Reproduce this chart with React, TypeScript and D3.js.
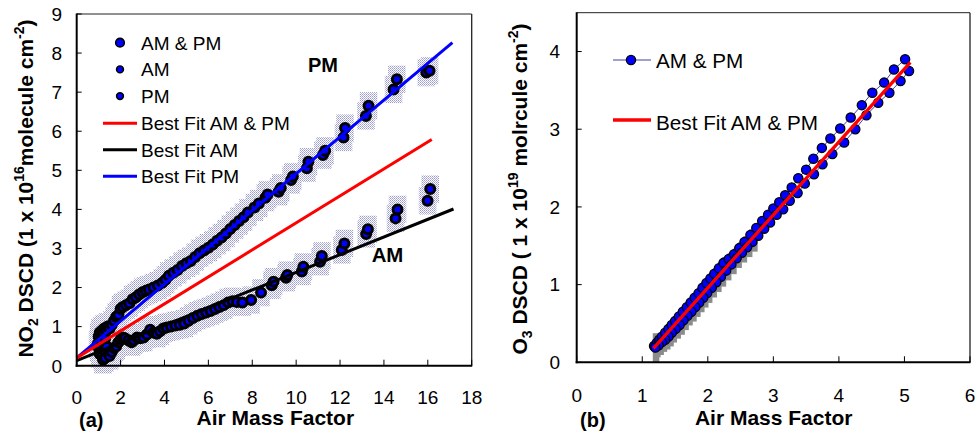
import React from "react";
import * as d3 from "d3";

// ---------- Panel (a): NO2 ----------
const pmX = [0.95,1.0,1.05,1.1,1.15,1.2,1.25,1.3,1.35,1.4,1.5,1.6,1.7,1.8,1.9,2.0,2.1,2.25,2.4,2.55,2.7,2.85,3.0,3.15,3.3,3.5,3.7,3.9,4.05,4.2,4.4,4.6,4.8,5.0,5.2,5.4,5.6,5.8,6.0,6.2,6.4,6.6,6.8,7.0,7.2,7.4,7.6,7.8,8.1,8.3,8.6,8.7,9.2,9.3,9.77,9.85,10.49,10.56,11.22,11.32,12.16,12.23,13.18,13.3,14.44,14.59,15.93,16.08];
const pmY = [0.55,0.75,0.85,0.65,0.9,0.8,0.95,0.7,0.9,1.0,0.95,1.05,1.15,1.25,1.3,1.45,1.5,1.55,1.6,1.7,1.75,1.82,1.88,1.92,1.95,2.0,2.05,2.12,2.2,2.3,2.38,2.45,2.55,2.62,2.68,2.78,2.88,2.95,3.02,3.1,3.2,3.28,3.38,3.5,3.6,3.7,3.8,3.92,4.05,4.15,4.3,4.38,4.45,4.55,4.75,4.84,5.05,5.22,5.39,5.5,5.84,6.08,6.39,6.65,7.07,7.33,7.5,7.55];
const amX = [1.0,1.05,1.1,1.15,1.2,1.25,1.3,1.35,1.45,1.5,1.6,1.7,1.8,1.9,2.0,2.1,2.2,2.35,2.5,2.6,2.75,2.9,3.05,3.2,3.35,3.5,3.65,3.8,3.95,4.1,4.3,4.5,4.7,4.9,5.1,5.3,5.5,5.7,5.9,6.1,6.3,6.5,6.7,6.9,7.1,7.3,7.55,7.95,8.4,8.89,8.97,9.54,9.6,10.26,10.33,11.09,11.17,12.08,12.2,13.19,13.27,14.53,14.62,15.99,16.11];
const amY = [0.45,0.3,0.55,0.25,0.15,0.4,0.2,0.5,0.3,0.25,0.35,0.45,0.5,0.6,0.68,0.72,0.7,0.65,0.6,0.65,0.72,0.7,0.72,0.8,0.92,0.85,0.82,0.88,0.95,0.98,1.0,1.03,1.05,1.08,1.15,1.22,1.28,1.32,1.36,1.4,1.45,1.5,1.55,1.62,1.65,1.63,1.62,1.68,1.87,2.06,2.15,2.25,2.32,2.41,2.53,2.66,2.81,2.96,3.13,3.37,3.49,3.77,4.0,4.22,4.52];
const no2ErrX = 0.4;
const no2ErrY = 0.35;
// fit lines: [x0, x1], [y0, y1]
const fitAllX = [0, 16.18]; const fitAllY = [0.2, 5.79];
const fitAmX = [0, 17.17]; const fitAmY = [0.13, 4.01];
const fitPmX = [0, 17.12]; const fitPmY = [0.2, 8.27];
const aXTicks = [0,2,4,6,8,10,12,14,16,18];
const aYTicks = [0,1,2,3,4,5,6,7,8,9];
const aLegendPts = ["AM & PM", "AM", "PM"];
const aLegendLines = ["Best Fit AM & PM", "Best Fit AM", "Best Fit PM"];

// ---------- Panel (b): O3 ----------
const o3UpX = [1.18,1.22,1.26,1.30,1.35,1.40,1.45,1.50,1.56,1.62,1.68,1.74,1.80,1.86,1.92,1.98,2.04,2.10,2.17,2.24,2.32,2.40,2.48,2.56,2.65,2.74,2.83,2.92,3.00,3.09,3.18,3.28,3.38,3.50,3.61,3.74,3.87,4.02,4.18,4.35,4.51,4.69,4.84,5.01];
const o3UpY = [0.21,0.25,0.29,0.33,0.38,0.43,0.48,0.53,0.59,0.65,0.71,0.77,0.83,0.89,0.96,1.02,1.08,1.14,1.21,1.28,1.33,1.39,1.47,1.55,1.64,1.73,1.82,1.90,1.98,2.06,2.15,2.25,2.37,2.48,2.62,2.76,2.88,3.01,3.15,3.31,3.47,3.60,3.77,3.90];
const o3LoX = [5.07,4.94,4.77,4.60,4.42,4.25,4.08,3.90,3.75,3.62,3.48,3.37,3.25,3.15,3.05,2.95,2.86,2.77,2.68,2.60,2.52,2.44,2.36,2.28,2.20,2.13,2.06,1.99,1.93,1.87,1.81,1.75,1.69,1.63,1.57,1.51,1.45,1.40,1.35,1.30,1.25,1.20];
const o3LoY = [3.75,3.62,3.47,3.34,3.18,3.00,2.83,2.68,2.55,2.42,2.30,2.18,2.08,1.97,1.90,1.80,1.72,1.63,1.55,1.48,1.41,1.34,1.26,1.18,1.10,1.03,0.96,0.89,0.83,0.77,0.71,0.65,0.60,0.54,0.48,0.43,0.38,0.33,0.29,0.26,0.22,0.19];
const o3FitX = [1.17, 5.09]; const o3FitY = [0.18, 3.86];
const o3ErrX = 0.05; const o3ErrY = 0.1; const o3ErrMaxX = 2.7;
const o3FirstErrY = 0.19;
const bXTicks = [0,1,2,3,4,5,6];
const bYTicks = [0,1,2,3,4];

const FONT = "'Liberation Sans', Arial, Helvetica, sans-serif";

export default function App() {
  const ax = d3.scaleLinear().domain([0, 18]).range([76.7, 471.7]);
  const ay = d3.scaleLinear().domain([0, 9]).range([365.7, 14]);
  const bx = d3.scaleLinear().domain([0, 6]).range([576.7, 970]);
  const by = d3.scaleLinear().domain([0, 4.5]).range([362.3, 12.7]);

  const lineA = d3.line<[number, number]>().x(d => ax(d[0])).y(d => ay(d[1]));
  const lineB = d3.line<[number, number]>().x(d => bx(d[0])).y(d => by(d[1]));

  const pair = (xs: number[], ys: number[]) => xs.map((x, i) => [x, ys[i]] as [number, number]);
  const allA = [...pair(amX, amY), ...pair(pmX, pmY)];
  const o3Pts: [number, number][] = [...pair(o3UpX, o3UpY), ...pair(o3LoX, o3LoY)];

  const legLineColors = ["#ff0000", "#000000", "#0000ff"];

  return (
    <svg width={976} height={438} style={{ position: "absolute", left: 0, top: 0, background: "#fff" }} fontFamily={FONT}>
      <defs>
        <pattern id="stip" width={2} height={2} patternUnits="userSpaceOnUse">
          <rect x={0} y={0} width={1} height={1} fill="#9a9ad0" />
          <rect x={1} y={1} width={1} height={1} fill="#b4b4de" />
        </pattern>
        <clipPath id="clipA"><rect x={76.7} y={14} width={395} height={360} /></clipPath>
      </defs>

      {/* ===== Panel (a) ===== */}
      <g>
        <g clipPath="url(#clipA)">
          {allA.map((d, i) => (
            <rect key={"e" + i} x={ax(d[0] - no2ErrX)} y={ay(d[1] + no2ErrY)}
              width={ax(no2ErrX * 2) - ax(0)} height={ay(0) - ay(no2ErrY * 2)} fill="url(#stip)" />
          ))}
        </g>
        {allA.map((d, i) => (
          <circle key={"p" + i} cx={ax(d[0])} cy={ay(d[1])} r={4.5} fill="#0000ff" stroke="#000" strokeWidth={3} />
        ))}
        <path d={lineA(pair(fitAmX, fitAmY)) || ""} stroke="#000" strokeWidth={3} fill="none" />
        <path d={lineA(pair(fitPmX, fitPmY)) || ""} stroke="#0000ff" strokeWidth={3} fill="none" />
        <path d={lineA(pair(fitAllX, fitAllY)) || ""} stroke="#ff0000" strokeWidth={3} fill="none" />

        <line x1={76.7} x2={471.7} y1={14} y2={14} stroke="#222" strokeWidth={1} />
        <line x1={471.7} x2={471.7} y1={14} y2={365.7} stroke="#222" strokeWidth={1.3} />
        <line x1={76.7} x2={76.7} y1={13.5} y2={366.7} stroke="#000" strokeWidth={2} />
        <line x1={75.7} x2={472.2} y1={365.7} y2={365.7} stroke="#000" strokeWidth={2} />
        {aXTicks.map(t => (
          <g key={"ax" + t}>
            <line x1={ax(t)} x2={ax(t)} y1={365.7} y2={359.7} stroke="#000" strokeWidth={1} />
            <text x={ax(t)} y={403.5} textAnchor="middle" fontSize={19} fill="#000">{t}</text>
          </g>
        ))}
        {aYTicks.map(t => (
          <g key={"ay" + t}>
            <line x1={76.7} x2={81.7} y1={ay(t)} y2={ay(t)} stroke="#000" strokeWidth={1} />
            <text x={62} y={ay(t) + 6.8} textAnchor="end" fontSize={19} fill="#000">{t}</text>
          </g>
        ))}
        <text x={275.3} y={425} textAnchor="middle" fontSize={21} fontWeight="bold">Air Mass Factor</text>
        <text x={79} y={427} fontSize={20} fontWeight="bold">(a)</text>
        <text transform="translate(33.3,188.5) rotate(-90)" textAnchor="middle" fontSize={21} fontWeight="bold">
          NO<tspan fontSize={14} dy={5}>2</tspan><tspan dy={-5}> DSCD (1 x 10</tspan><tspan fontSize={14} dy={-9}>16</tspan><tspan dy={9}>molecule cm</tspan><tspan fontSize={14} dy={-9}>-2</tspan><tspan dy={9}>)</tspan>
        </text>

        {aLegendPts.map((s, i) => (
          <g key={"lp" + i}>
            <circle cx={120} cy={42.7 + i * 26.7} r={i === 0 ? 4.3 : 3.4} fill="#0000ff" stroke="#000" strokeWidth={1.6} />
            <text x={141} y={42.7 + i * 26.7 + 7} fontSize={19}>{s}</text>
          </g>
        ))}
        {aLegendLines.map((s, i) => (
          <g key={"ll" + i}>
            <line x1={103} x2={137} y1={123.3 + i * 26.5} y2={123.3 + i * 26.5} stroke={legLineColors[i]} strokeWidth={3} />
            <text x={141} y={123.3 + i * 26.5 + 7} fontSize={19}>{s}</text>
          </g>
        ))}
        <text x={323} y={72.3} textAnchor="middle" fontSize={20} fontWeight="bold">PM</text>
        <text x={387.5} y={262.3} textAnchor="middle" fontSize={20.4} fontWeight="bold">AM</text>
      </g>

      {/* ===== Panel (b) ===== */}
      <g>
        {o3Pts.filter(d => d[0] < o3ErrMaxX).map((d, i) => {
          const e = i === 0 ? o3FirstErrY : o3ErrY;
          return (
            <rect key={"ge" + i} x={bx(d[0] - o3ErrX) + 2} y={by(d[1] + e) + 2}
              width={bx(o3ErrX * 2) - bx(0)} height={by(0) - by(e * 2)} fill="#8c8c8c" />
          );
        })}
        <path d={lineB(o3Pts) || ""} stroke="#4040a8" strokeWidth={1} fill="none" />
        {o3Pts.map((d, i) => (
          <circle key={"o" + i} cx={bx(d[0])} cy={by(d[1])} r={4.6} fill="#0000ff" stroke="#000" strokeWidth={1.3} />
        ))}
        <path d={lineB(pair(o3FitX, o3FitY)) || ""} stroke="#ff0000" strokeWidth={3.3} fill="none" />

        <line x1={576.7} x2={970} y1={12.7} y2={12.7} stroke="#222" strokeWidth={1} />
        <line x1={970} x2={970} y1={12.7} y2={362.3} stroke="#222" strokeWidth={1.3} />
        <line x1={576.7} x2={576.7} y1={12.2} y2={363.3} stroke="#000" strokeWidth={2} />
        <line x1={575.7} x2={970.5} y1={362.3} y2={362.3} stroke="#000" strokeWidth={2} />
        {bXTicks.map(t => (
          <g key={"bx" + t}>
            <line x1={bx(t)} x2={bx(t)} y1={362.3} y2={356.3} stroke="#000" strokeWidth={1} />
            <text x={bx(t)} y={401.7} textAnchor="middle" fontSize={19}>{t}</text>
          </g>
        ))}
        {bYTicks.map(t => (
          <g key={"by" + t}>
            <line x1={576.7} x2={581.7} y1={by(t)} y2={by(t)} stroke="#000" strokeWidth={1} />
            <text x={560} y={by(t) + 6.8} textAnchor="end" fontSize={19}>{t}</text>
          </g>
        ))}
        <text x={773.7} y={425} textAnchor="middle" fontSize={21} fontWeight="bold">Air Mass Factor</text>
        <text x={580} y={427} fontSize={20} fontWeight="bold">(b)</text>
        <text transform="translate(526.7,189) rotate(-90)" textAnchor="middle" fontSize={21} fontWeight="bold">
          O<tspan fontSize={14} dy={5}>3</tspan><tspan dy={-5}> DSCD ( 1 x 10</tspan><tspan fontSize={14} dy={-9}>19</tspan><tspan dy={9}> molrcule cm</tspan><tspan fontSize={14} dy={-9}>-2</tspan><tspan dy={9}>)</tspan>
        </text>

        <line x1={613} x2={651} y1={60} y2={60} stroke="#4040a8" strokeWidth={1} />
        <circle cx={631} cy={60} r={4.6} fill="#0000ff" stroke="#000" strokeWidth={1.3} />
        <text x={656} y={68.3} fontSize={20.7}>AM &amp; PM</text>
        <line x1={613} x2={651} y1={120} y2={120} stroke="#ff0000" strokeWidth={3.3} />
        <text x={656} y={130} fontSize={20.7}>Best Fit AM &amp; PM</text>
      </g>
    </svg>
  );
}
